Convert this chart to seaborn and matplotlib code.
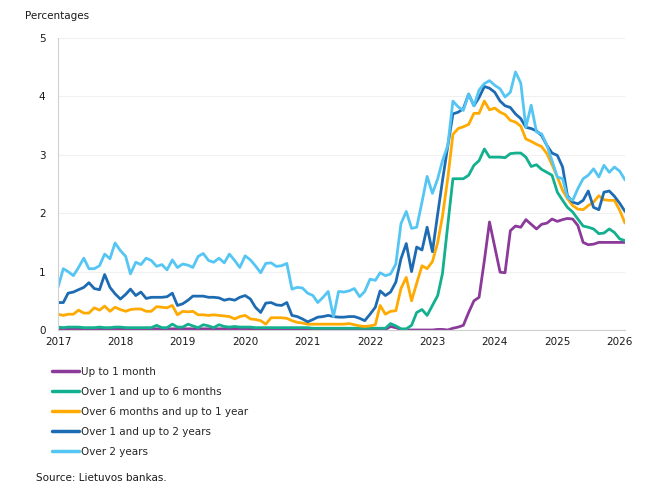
import numpy as np
import pandas as pd
import seaborn as sns
import matplotlib
matplotlib.use("Agg")
import matplotlib.pyplot as plt

# monthly series, Jan 2017 .. Feb 2026
months = pd.date_range("2017-01-01", periods=110, freq="MS")

up_to_1m = [
    0.02, 0.02, 0.02, 0.02, 0.02, 0.02, 0.02, 0.02, 0.02, 0.02, 0.02, 0.02,
    0.02, 0.02, 0.02, 0.02, 0.02, 0.02, 0.02, 0.02, 0.02, 0.02, 0.02, 0.02,
    0.02, 0.02, 0.02, 0.02, 0.02, 0.02, 0.02, 0.02, 0.02, 0.02, 0.02, 0.02,
    0.02, 0.02, 0.02, 0.02, 0.02, 0.02, 0.02, 0.02, 0.02, 0.02, 0.02, 0.02,
    0.02, 0.02, 0.02, 0.01, 0.01, 0.01, 0.01, 0.01, 0.01, 0.01, 0.01, 0.01,
    0.01, 0.01, 0.01, 0.01, 0.06, 0.04, 0.01, 0.00, 0.00, 0.00, 0.00, 0.00,
    0.00, 0.01, 0.01, 0.00, 0.03, 0.05, 0.08, 0.30, 0.50, 0.56, 1.19, 1.85,
    1.42, 0.99, 0.98, 1.70, 1.78, 1.76, 1.89, 1.81, 1.73, 1.81, 1.83, 1.90,
    1.86, 1.89, 1.91, 1.90, 1.79, 1.50, 1.46, 1.47, 1.50, 1.50, 1.50, 1.50,
    1.50, 1.50,
]
over_1m_6m = [
    0.05, 0.04, 0.05, 0.05, 0.05, 0.04, 0.04, 0.04, 0.05, 0.04, 0.04, 0.05,
    0.05, 0.04, 0.04, 0.04, 0.04, 0.04, 0.04, 0.08, 0.04, 0.04, 0.10, 0.05,
    0.05, 0.10, 0.07, 0.04, 0.09, 0.07, 0.04, 0.09, 0.06, 0.05, 0.06, 0.05,
    0.05, 0.05, 0.04, 0.04, 0.04, 0.04, 0.04, 0.04, 0.04, 0.04, 0.04, 0.04,
    0.04, 0.03, 0.03, 0.03, 0.03, 0.03, 0.03, 0.03, 0.03, 0.03, 0.03, 0.03,
    0.03, 0.03, 0.03, 0.03, 0.11, 0.07, 0.02, 0.02, 0.08, 0.30, 0.35, 0.25,
    0.42, 0.59, 0.97, 1.80, 2.59, 2.59, 2.59, 2.65, 2.82, 2.90, 3.10, 2.96,
    2.96, 2.96, 2.95, 3.02, 3.03, 3.03, 2.96, 2.80, 2.83, 2.75, 2.70, 2.65,
    2.36, 2.22, 2.10, 2.02, 1.90, 1.78, 1.76, 1.73, 1.65, 1.66, 1.73, 1.67,
    1.56, 1.53,
]
over_6m_1y = [
    0.27, 0.25, 0.27, 0.27, 0.34, 0.29, 0.29, 0.38, 0.34, 0.41, 0.32, 0.39,
    0.35, 0.32, 0.35, 0.36, 0.36, 0.32, 0.32, 0.40, 0.39, 0.38, 0.42, 0.26,
    0.32, 0.31, 0.32, 0.26, 0.26, 0.25, 0.26, 0.25, 0.24, 0.23, 0.19, 0.23,
    0.25, 0.19, 0.18, 0.16, 0.10, 0.21, 0.21, 0.21, 0.20, 0.16, 0.13, 0.12,
    0.10, 0.10, 0.10, 0.10, 0.10, 0.10, 0.10, 0.10, 0.11, 0.09, 0.07, 0.06,
    0.07, 0.09, 0.42, 0.27, 0.32, 0.33, 0.71, 0.90, 0.50, 0.80, 1.10, 1.05,
    1.17, 1.50, 1.95, 2.60, 3.35, 3.45, 3.48, 3.52, 3.71, 3.71, 3.92, 3.77,
    3.80, 3.73, 3.69, 3.59, 3.56, 3.49, 3.27, 3.23, 3.18, 3.14, 3.02, 2.83,
    2.62, 2.39, 2.25, 2.13, 2.07, 2.06, 2.13, 2.19, 2.30, 2.23, 2.22, 2.22,
    2.05, 1.83,
]
over_1y_2y = [
    0.47, 0.47, 0.63, 0.65, 0.69, 0.73, 0.81, 0.71, 0.69, 0.95, 0.73, 0.62,
    0.53, 0.61, 0.70, 0.59, 0.65, 0.54, 0.56, 0.56, 0.56, 0.57, 0.63, 0.42,
    0.45, 0.51, 0.58, 0.58, 0.58, 0.56, 0.56, 0.55, 0.51, 0.53, 0.51, 0.56,
    0.59, 0.53, 0.39, 0.30, 0.46, 0.47, 0.43, 0.42, 0.47, 0.25, 0.23, 0.19,
    0.14, 0.18, 0.22, 0.23, 0.25, 0.23, 0.22, 0.22, 0.23, 0.23, 0.20, 0.16,
    0.27, 0.39, 0.67, 0.59, 0.65, 0.82, 1.22, 1.48, 1.00, 1.42, 1.37, 1.76,
    1.34, 1.99, 2.56, 3.15, 3.70, 3.73, 3.79, 4.04, 3.84, 3.98, 4.17, 4.14,
    4.07, 3.92, 3.84, 3.81, 3.70, 3.62, 3.47, 3.45, 3.41, 3.33, 3.16, 3.03,
    2.99, 2.79, 2.30, 2.19, 2.16, 2.22, 2.38, 2.10, 2.06, 2.36, 2.38, 2.29,
    2.17, 2.03,
]
over_2y = [
    0.73, 1.05, 1.00, 0.93, 1.07, 1.23, 1.05, 1.05, 1.10, 1.30, 1.22, 1.49,
    1.36, 1.26, 0.96, 1.16, 1.12, 1.23, 1.19, 1.09, 1.12, 1.03, 1.20, 1.07,
    1.13, 1.11, 1.07, 1.26, 1.31, 1.19, 1.16, 1.23, 1.15, 1.30, 1.19, 1.07,
    1.27, 1.20, 1.10, 0.98, 1.14, 1.15, 1.09, 1.10, 1.14, 0.70, 0.73, 0.72,
    0.63, 0.59, 0.47, 0.56, 0.66, 0.23, 0.66, 0.65, 0.67, 0.71, 0.57, 0.66,
    0.87, 0.85, 0.98, 0.93, 0.96, 1.13, 1.82, 2.03, 1.74, 1.76, 2.19, 2.63,
    2.34, 2.59, 2.90, 3.16, 3.92, 3.82, 3.76, 4.04, 3.84, 4.11, 4.22, 4.27,
    4.19, 4.13, 3.99, 4.07, 4.42, 4.23, 3.47, 3.85, 3.39, 3.36, 3.16, 2.90,
    2.62, 2.59, 2.27, 2.22, 2.42, 2.59, 2.65, 2.76, 2.62, 2.82, 2.70, 2.79,
    2.72, 2.57,
]

labels = [
    "Up to 1 month",
    "Over 1 and up to 6 months",
    "Over 6 months and up to 1 year",
    "Over 1 and up to 2 years",
    "Over 2 years",
]
colors = ["#8C3A9A", "#12B08E", "#FFAA00", "#1D6CB3", "#55C6F3"]
year_ticks = list(range(2017, 2027))

df = pd.concat([
    pd.DataFrame({"date": months, "rate": vals, "series": name})
    for name, vals in zip(labels, [up_to_1m, over_1m_6m, over_6m_1y, over_1y_2y, over_2y])
])

sns.set_style("white")
plt.rcParams["font.family"] = ["DejaVu Sans"]
fs = 7.5

fig = plt.figure(figsize=(6.5, 5), dpi=100)
ax = fig.add_axes([58 / 650, 1 - 330 / 500, (625 - 58) / 650, (330 - 38) / 500])

sns.lineplot(data=df, x="date", y="rate", hue="series", hue_order=labels,
             palette=colors, linewidth=2.0, ax=ax, legend=True)

ax.set_xlim(months[0], months[-1])
ax.set_ylim(0, 5)
ax.set_yticks(range(0, 6))
ax.set_xticks([pd.Timestamp(f"{y}-01-01") for y in year_ticks])
ax.set_xticklabels([str(y) for y in year_ticks])
ax.set_xlabel("")
ax.set_ylabel("")
ax.tick_params(axis="both", length=0, labelsize=fs, colors="#1a1a1a")
ax.tick_params(axis="y", pad=9)
ax.tick_params(axis="x", pad=5)
ax.grid(axis="y", color="#f0f0f0", linewidth=0.8)
ax.set_axisbelow(True)
for s in ["top", "right"]:
    ax.spines[s].set_visible(False)
for s in ["left", "bottom"]:
    ax.spines[s].set_color("#d0d0d0")
    ax.spines[s].set_linewidth(0.8)

fig.text(25 / 650, 1 - 16 / 500, "Percentages", fontsize=fs, va="center", ha="left", color="#1a1a1a")
fig.text(36 / 650, 1 - 478 / 500, "Source: Lietuvos bankas.", fontsize=fs, va="center", ha="left", color="#1a1a1a")

handles, lbls = ax.get_legend_handles_labels()
ax.legend(handles, lbls, loc="upper left", bbox_to_anchor=(52 / 650, 1 - 367 / 500),
          bbox_transform=fig.transFigure, frameon=False, fontsize=fs,
          handlelength=2.6, handletextpad=0.15, labelspacing=0.95,
          borderpad=0, borderaxespad=0)
for line in ax.get_legend().get_lines():
    line.set_linewidth(2.5)

fig.savefig("out.png", dpi=100)
